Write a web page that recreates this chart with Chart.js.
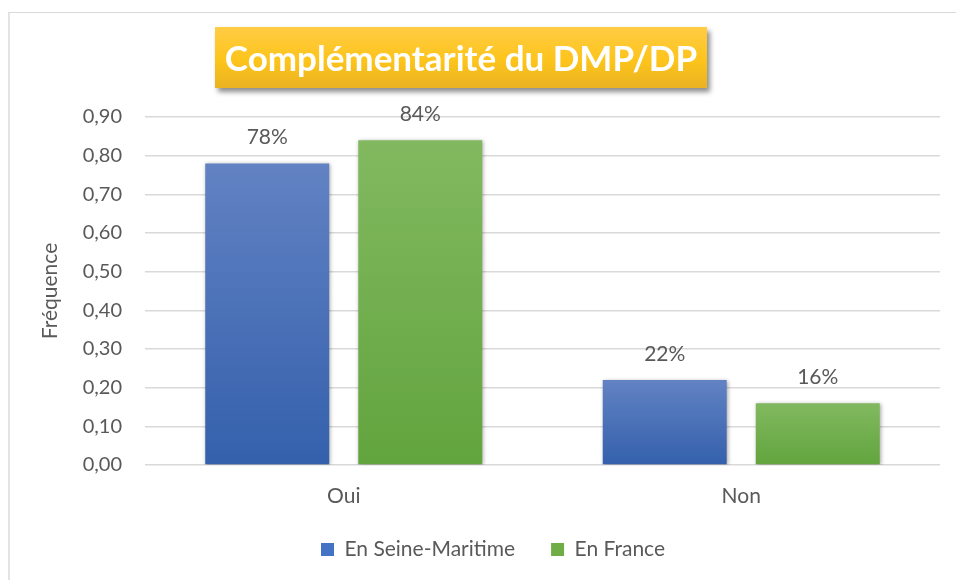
<!DOCTYPE html>
<html lang="fr">
<head>
<meta charset="UTF-8">
<title>Complémentarité du DMP/DP</title>
<script src="https://cdn.jsdelivr.net/npm/chart.js"></script>
<style>
    body { margin: 0; background: #fff; }
    .cadre { position: relative; width: 956px; height: 580px; font-family: Lato, "Open Sans", sans-serif; }
    .bord { position: absolute; left: 8px; top: 12px; right: 0; bottom: 0; border-left: 2px solid #e3e3e3; border-top: 1px solid #d9d9d9; }
    .titre {
        position: absolute; left: 215px; top: 27px; width: 492px; height: 61px;
        background: linear-gradient(#ffcc45, #fdc41b 55%, #e9b322);
        box-shadow: 3px 4px 5px rgba(0,0,0,0.45);
        color: #fff; font-weight: bold; font-size: 35px; line-height: 61px; text-align: center;
        white-space: nowrap;
    }
    canvas { position: absolute; left: 0; top: 0; }
</style>
</head>
<body>
<div class="cadre">
    <div class="bord"></div>
    <canvas id="graphique" width="956" height="580"></canvas>
    <div class="titre">Complémentarité du DMP/DP</div>
</div>
<script>
    const categories = ['Oui', 'Non'];
    const seineMaritime = [0.78, 0.22];
    const france = [0.84, 0.16];
    const series = ['En Seine-Maritime', 'En France'];
    const graduations = [0, 0.1, 0.2, 0.3, 0.4, 0.5, 0.6, 0.7, 0.8, 0.9];

    const gris = '#595959';
    const police = 'Lato, "Open Sans", sans-serif';

    // dégradé vertical sur chaque barre
    function degrade(haut, bas, plein) {
        return function (context) {
            const chart = context.chart;
            if (!chart.chartArea || context.type !== 'data') return plein;
            const y0 = chart.scales.y.getPixelForValue(context.raw);
            const y1 = chart.scales.y.getPixelForValue(0);
            const g = chart.ctx.createLinearGradient(0, y0, 0, y1);
            g.addColorStop(0, haut);
            g.addColorStop(1, bas);
            return g;
        };
    }

    const ombre = {
        id: 'ombre',
        beforeDatasetsDraw(chart) {
            chart.ctx.save();
            chart.ctx.shadowColor = 'rgba(0,0,0,0.35)';
            chart.ctx.shadowBlur = 4;
            chart.ctx.shadowOffsetX = 1;
            chart.ctx.shadowOffsetY = 1;
        },
        afterDatasetsDraw(chart) {
            chart.ctx.restore();
        }
    };

    // la légende est un peu décalée à droite dans l'original
    const decalage = {
        id: 'decalage',
        afterLayout(chart) {
            chart.legend.left += 18;
            chart.legend.right += 18;
        }
    };

    const etiquettes = {
        id: 'etiquettes',
        afterDatasetsDraw(chart) {
            const ctx = chart.ctx;
            ctx.save();
            ctx.font = '21px ' + police;
            ctx.fillStyle = gris;
            ctx.textAlign = 'center';
            ctx.textBaseline = 'middle';
            chart.data.datasets.forEach((ds, i) => {
                chart.getDatasetMeta(i).data.forEach((barre, j) => {
                    ctx.fillText(Math.round(ds.data[j] * 100) + '%', barre.x, barre.y - 26);
                });
            });
            ctx.restore();
        }
    };

    new Chart(document.getElementById('graphique'), {
        type: 'bar',
        data: {
            labels: categories,
            datasets: [{
                label: series[0],
                data: seineMaritime,
                backgroundColor: degrade('#6282c3', '#3460ac', '#4472c4'),
                couleur: '#4472c4'
            }, {
                label: series[1],
                data: france,
                backgroundColor: degrade('#82b960', '#62a43e', '#70ad47'),
                couleur: '#70ad47'
            }]
        },
        options: {
            responsive: false,
            animation: false,
            categoryPercentage: 0.77,
            barPercentage: 0.81,
            layout: { padding: { left: 10, right: 16, top: 117, bottom: 10 } },
            plugins: {
                legend: {
                    position: 'bottom',
                    labels: {
                        color: gris,
                        font: { family: police, size: 21 },
                        boxWidth: 13,
                        boxHeight: 13,
                        padding: 36,
                        generateLabels(chart) {
                            return chart.data.datasets.map((ds, i) => ({
                                text: ds.label,
                                fillStyle: ds.couleur,
                                strokeStyle: ds.couleur,
                                lineWidth: 0,
                                fontColor: gris,
                                datasetIndex: i
                            }));
                        }
                    }
                },
                tooltip: { enabled: false }
            },
            scales: {
                x: {
                    grid: { display: false },
                    border: { display: false },
                    ticks: { color: gris, font: { family: police, size: 21 }, padding: 11 },
                    afterFit(scale) { scale.height = 38; }
                },
                y: {
                    min: 0,
                    max: 0.9,
                    afterBuildTicks(scale) {
                        scale.ticks = graduations.map(v => ({ value: v }));
                    },
                    grid: { color: '#d9d9d9', lineWidth: 1.5, drawTicks: false },
                    border: { display: false },
                    ticks: {
                        color: gris,
                        font: { family: police, size: 20 },
                        padding: 23,
                        callback: v => v.toFixed(2).replace('.', ',')
                    },
                    title: {
                        display: true,
                        text: 'Fréquence',
                        color: gris,
                        font: { family: police, size: 21 },
                        padding: { top: 28, bottom: 0 }
                    },
                    afterFit(scale) { scale.width = 135; }
                }
            }
        },
        plugins: [ombre, decalage, etiquettes]
    });
</script>
</body>
</html>
